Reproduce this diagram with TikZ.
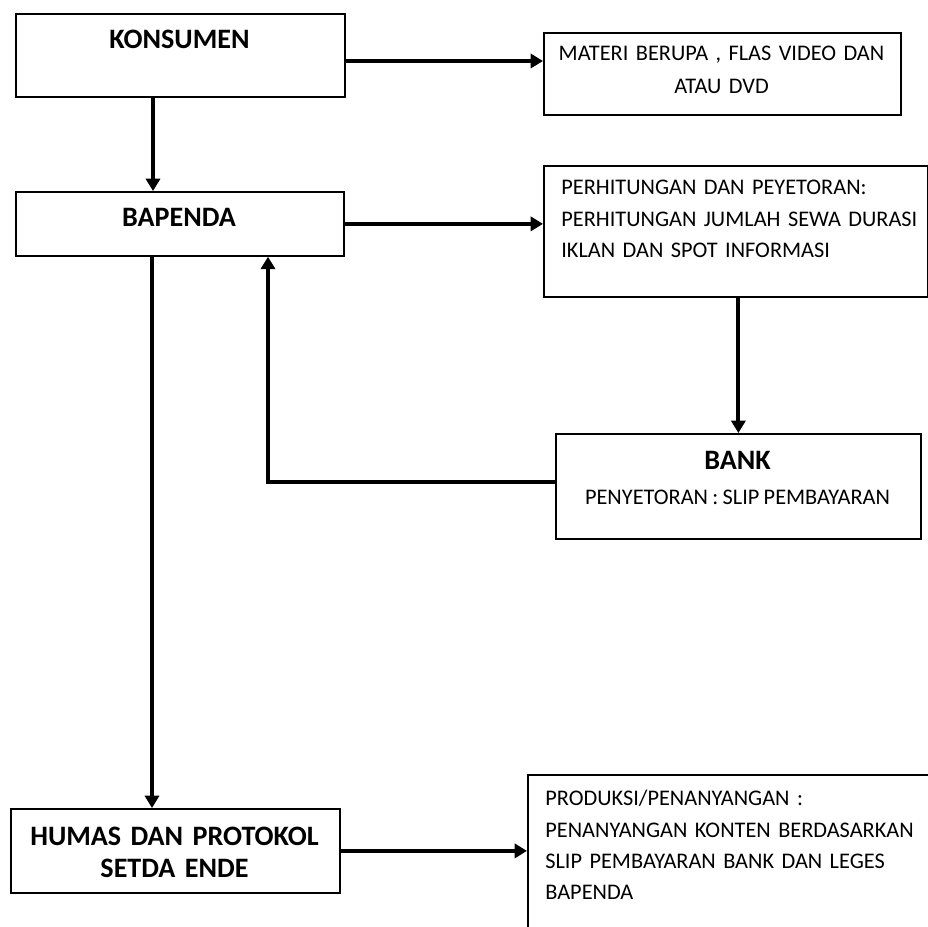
\documentclass[tikz,border=0pt]{standalone}
\usepackage{fontspec}
\setmainfont{Carlito}[WordSpace=0.85]
\usetikzlibrary{arrows.meta}
\colorlet{garis}{black}
\newcommand{\pxl}{0.02cm}
\tikzset{
  kotak/.style={draw=garis, line width=1pt, inner sep=0pt, anchor=north west},
  judul/.style={font=\fontsize{16}{18.2}\selectfont\bfseries, inner sep=0pt},
  isi/.style={font=\fontsize{12.7}{17.8}\selectfont, inner sep=0pt},
  panah/.style={draw=garis, line width=2.2pt, -{Triangle[length=7pt,width=8pt]}}
}

\begin{document}
\begin{tikzpicture}[x=\pxl, y=-\pxl]
        \clip (0,0) rectangle (928,926);
        \fill[white] (0,0) rectangle (928,926);
        % kotak-kotak
        \foreach \nama/\x/\y/\w/\h in {konsumen/15/13/329/83, bapenda/15/191/328/64,
            materi/543/32/357/82, hitung/543/165/384/131, bank/555/433/365/105,
            humas/10/808/329/84, produksi/527/774/430/200}{
            \node[kotak, minimum width=\w*\pxl, minimum height=\h*\pxl] (\nama) at (\x,\y) {};
        }
        % teks
        \node[judul, anchor=base] (konsumen-t) at (179.5,49) {KONSUMEN};
        \node[judul, anchor=base] (bapenda-t) at (179,226) {BAPENDA};
        \node[isi, anchor=north, align=center, text width=7cm, font=\fontsize{12.7}{18.8}\selectfont] (materi-t) at (721.5,46) {MATERI BERUPA , FLAS VIDEO DAN\\ATAU DVD};
        \node[isi, anchor=north west, align=left, text width=7.5cm] (hitung-t) at (561,180) {PERHITUNGAN DAN PEYETORAN:\\PERHITUNGAN JUMLAH SEWA DURASI\\IKLAN DAN SPOT INFORMASI};
        \node[judul, anchor=base] (bank-t) at (737.5,469) {BANK};
        \node[isi, anchor=base] (bank-s) at (737.5,504) {PENYETORAN : SLIP PEMBAYARAN};
        \node[judul, anchor=north, align=center, text width=6.5cm] (humas-t) at (174.5,827) {HUMAS DAN PROTOKOL\\SETDA ENDE};
        \node[isi, anchor=north west, align=left, text width=7.8cm] (produksi-t) at (545,790) {PRODUKSI/PENANYANGAN :\\PENANYANGAN KONTEN BERDASARKAN\\SLIP PEMBAYARAN BANK DAN LEGES\\BAPENDA};
        % panah
        \draw[panah] (konsumen.east |- 0,61) -- (materi.west |- 0,61);
        \draw[panah] (konsumen.south -| 153,0) -- (bapenda.north -| 153,0);
        \draw[panah] (bapenda.east) -- (hitung.west |- bapenda.east);
        \draw[panah] (hitung.south -| bank.north) -- (bank.north);
        \draw[panah] (bank.west |- 0,482) -| (bapenda.south -| 268,0);
        \draw[panah] (bapenda.south -| 152,0) -- (humas.north -| 152,0);
        \draw[panah] (humas.east) -- (produksi.west |- humas.east);
    \end{tikzpicture}
\end{document}
